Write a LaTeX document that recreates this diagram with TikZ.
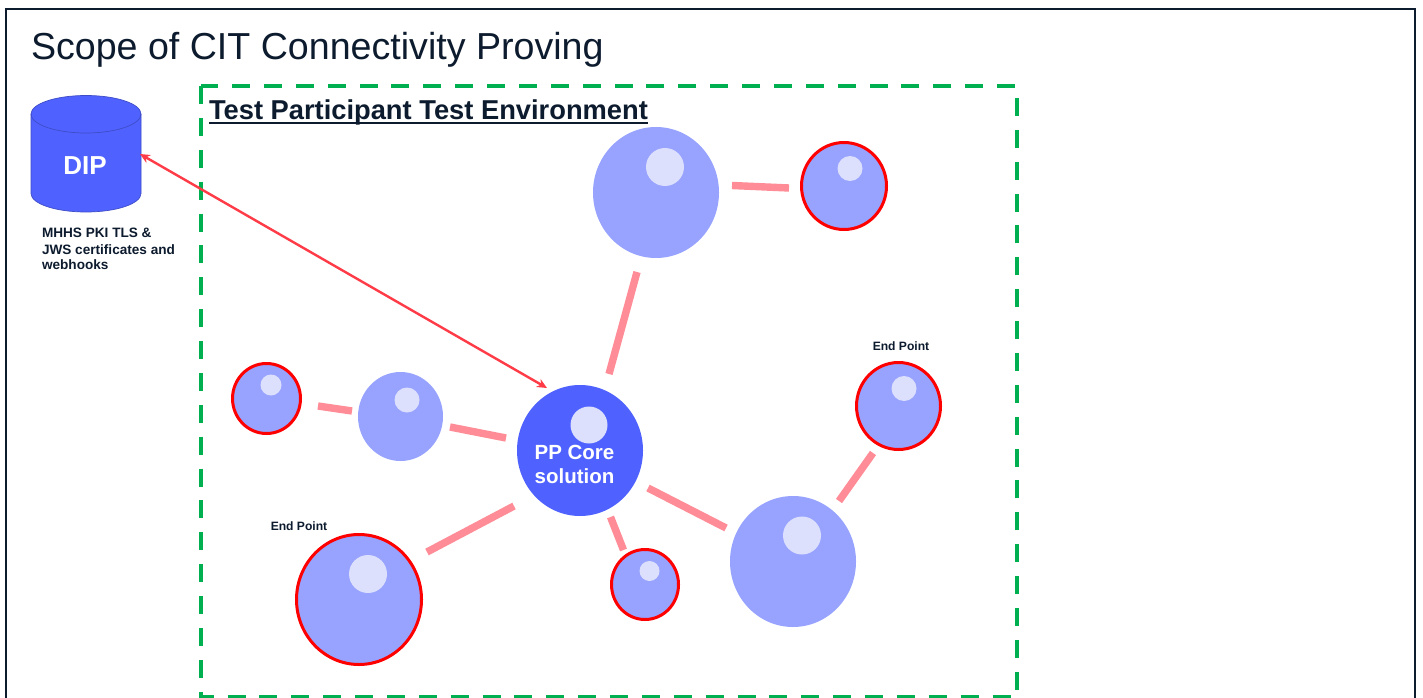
\documentclass[tikz,border=0pt]{standalone}
\usepackage{fontspec}
\setmainfont{Liberation Sans}
\usetikzlibrary{shapes.geometric,arrows.meta}
\definecolor{ink}{HTML}{0D1B2E}
\definecolor{corecol}{HTML}{4F62FF}
\definecolor{ballcol}{HTML}{97A3FF}
\definecolor{shinecol}{HTML}{DDE0FD}
\definecolor{linkcol}{HTML}{FF8C96}
\definecolor{arrowcol}{HTML}{FF3B47}
\definecolor{envcol}{HTML}{00B050}
\definecolor{ringcol}{HTML}{FF0000}
\newcommand{\fs}[1]{\fontsize{#1pt}{#1pt}\selectfont}
\tikzset{
  x=1pt,y=-1pt,
  ball/.style n args={2}{ellipse,inner sep=0pt,outer sep=0pt,fill=ballcol,minimum width=#1pt,minimum height=#2pt},
  ringball/.style n args={2}{ball={#1}{#2},draw=ringcol,line width=3pt},
  shine/.style={circle,inner sep=0pt,outer sep=0pt,fill=shinecol,minimum size=#1pt},
  link/.style={draw=linkcol,line width=7.4pt},
  txt/.style={inner sep=0pt,outer sep=0pt,text=ink,align=left},
  dipedge/.style={draw=corecol!78!black,line width=0.7pt},
}
\begin{document}
\begin{tikzpicture}
\useasboundingbox (0,0) rectangle (1423,698);
\fill[white] (0,0) rectangle (1423,698);
% frame
\draw[ink,line width=2pt] (6,698) -- (6,9.5) -- (1415,9.5) -- (1415,698);
% texts
\node[txt,anchor=base west] (title) at (31,60) {\fs{37.6}Scope of CIT Connectivity Proving};
% environment
\node[draw=none,inner sep=0pt,outer sep=0pt,minimum width=816pt,minimum height=611pt] (env) at (609,391.5) {};
\draw[envcol,line width=4.6pt,dash pattern=on 18pt off 13.875pt] (env.north west) rectangle (env.south east);
\node[txt,anchor=base west] (envtitle) at (209,120) {\fs{27.3}\bfseries\rlap{\rule[-4.5pt]{439pt}{2.4pt}}Test Participant Test Environment};
% DIP
\node[inner sep=0pt,outer sep=0pt,minimum width=110pt,minimum height=116pt] (dip) at (86,154) {};
\path[fill=corecol,dipedge] (31,114) -- (31,193.5) arc[start angle=180,end angle=0,x radius=55,y radius=18.5] -- (141,114) arc[start angle=0,end angle=-180,x radius=55,y radius=18.5] -- cycle;
\path[dipedge] (31,114) arc[start angle=180,end angle=0,x radius=55,y radius=19];
\node[txt,text=white,anchor=base] (diptext) at (85,174) {\fs{26}\bfseries DIP};
\node[txt,anchor=base west] (cap1) at (42,237) {\fs{13.6}\bfseries MHHS PKI TLS \&};
\node[txt,anchor=base west] (cap2) at (42,254) {\fs{13.6}\bfseries JWS certificates and};
\node[txt,anchor=base west] (cap3) at (42,269) {\fs{13.6}\bfseries webhooks};
% balls
\node[ball={126}{131},fill=corecol] (core) at (580,450.5) {};
\node[ball={126}{131}] (top) at (656,192.5) {};
\node[ringball={85}{87}] (topr) at (844,186) {};
\node[ringball={68}{70}] (lefts) at (266.5,398.5) {};
\node[ball={85}{89}] (leftm) at (400.5,416.5) {};
\node[ringball={125}{130}] (botl) at (359,599.5) {};
\node[ringball={67}{70}] (bots) at (645,584.5) {};
\node[ball={126}{131}] (botr) at (793,561.5) {};
\node[ringball={84}{87}] (endr) at (898.5,406) {};
% highlights
\node[shine=37] (s1) at (589,425) {};
\node[shine=38] (s2) at (665,167) {};
\node[shine=25] (s3) at (850,168.5) {};
\node[shine=21] (s4) at (271,385) {};
\node[shine=25] (s5) at (407,400) {};
\node[shine=38] (s6) at (368,574) {};
\node[shine=20] (s7) at (649.5,571) {};
\node[shine=38] (s8) at (802,535.5) {};
\node[shine=25] (s9) at (904,388.5) {};
% core text
\node[txt,text=white,anchor=base] (coretext1) at (574.5,459) {\fs{20.5}\bfseries PP Core};
\node[txt,text=white,anchor=base] (coretext2) at (574.5,483) {\fs{20.5}\bfseries solution};
% end point labels
\node[txt,anchor=base] (ep1) at (901,350) {\fs{12.1}\bfseries End Point};
\node[txt,anchor=base] (ep2) at (299,530) {\fs{12.1}\bfseries End Point};
% links
\draw[link] ([shift={(29,-76.5)}]core.center) -- ([shift={(-19,79.5)}]top.center);
\draw[link] ([shift={(76,-7)}]top.center) -- ([shift={(-55,2)}]topr.center);
\draw[link] ([shift={(51.5,7.5)}]lefts.center) -- ([shift={(-48.5,-5.5)}]leftm.center);
\draw[link] ([shift={(49.5,10.5)}]leftm.center) -- ([shift={(-74,-12.5)}]core.center);
\draw[link] ([shift={(-66,55.5)}]core.center) -- ([shift={(68,-47.5)}]botl.center);
\draw[link] ([shift={(30.5,66.5)}]core.center) -- ([shift={(-21.5,-34.5)}]bots.center);
\draw[link] ([shift={(68,37.5)}]core.center) -- ([shift={(-67,-33.5)}]botr.center);
\draw[link] ([shift={(46,-60.5)}]botr.center) -- ([shift={(-25.5,47)}]endr.center);
% arrow
\draw[arrowcol,line width=2.4pt,{Stealth[length=10pt,width=9pt]}-{Stealth[length=10pt,width=9pt]}] ([shift={(54,0)}]dip.center) -- ([shift={(-33,-62.5)}]core.center);
\end{tikzpicture}
\end{document}
